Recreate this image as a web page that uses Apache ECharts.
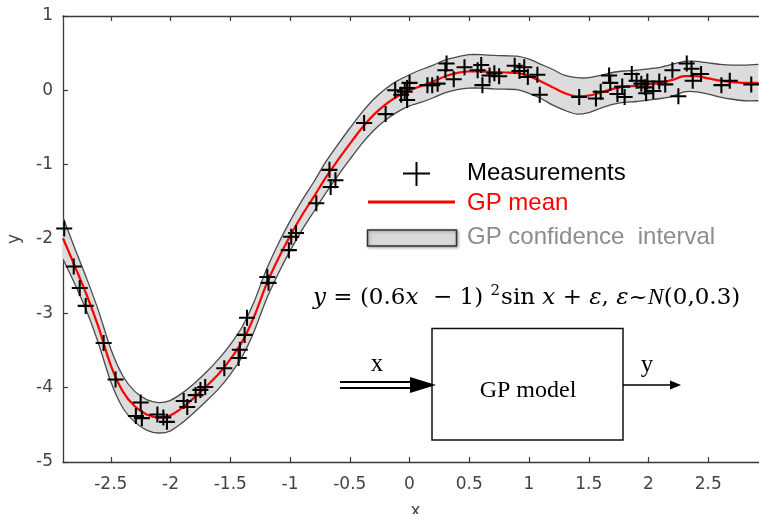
<!DOCTYPE html>
<html>
<head>
<meta charset="utf-8">
<script src="https://cdn.jsdelivr.net/npm/echarts@6/dist/echarts.min.js"></script>
<style>html,body{margin:0;padding:0;background:#fff;}#c{width:759px;height:514px;}</style>
</head>
<body>
<div id="c"></div>
<script>
// ---- data ----
const xTicks = [-2.5, -2, -1.5, -1, -0.5, 0, 0.5, 1, 1.5, 2, 2.5];
const yTicks = [-5, -4, -3, -2, -1, 0, 1];

const meanX = [-2.9,-2.8,-2.7,-2.6,-2.5,-2.4,-2.3,-2.2,-2.1,-2.0,-1.9,-1.8,-1.7,-1.6,-1.5,-1.4,-1.3,-1.2,-1.1,-1.0,
  -0.9,-0.8,-0.7,-0.6,-0.5,-0.4,-0.3,-0.2,-0.1,0.0,0.1,0.2,0.3,0.4,0.5,0.6,0.7,0.8,0.9,1.0,
  1.1,1.2,1.3,1.4,1.5,1.6,1.7,1.8,1.9,2.0,2.1,2.2,2.3,2.4,2.5,2.6,2.7,2.8,2.92];
const meanY = [-1.99,-2.37,-2.76,-3.20,-3.70,-4.05,-4.25,-4.36,-4.40,-4.37,-4.27,-4.13,-3.98,-3.82,-3.62,-3.38,-3.04,-2.62,-2.27,-1.96,
  -1.68,-1.43,-1.17,-0.94,-0.72,-0.51,-0.33,-0.19,-0.08,0.00,0.06,0.12,0.19,0.235,0.255,0.255,0.245,0.24,0.235,0.19,
  0.12,0.04,-0.04,-0.08,-0.07,-0.03,0.02,0.05,0.06,0.08,0.10,0.14,0.19,0.19,0.16,0.13,0.11,0.10,0.10];
const upperY = [-1.71,-2.13,-2.54,-2.98,-3.48,-3.84,-4.05,-4.16,-4.20,-4.17,-4.07,-3.94,-3.79,-3.62,-3.42,-3.18,-2.84,-2.42,-2.07,-1.76,
  -1.48,-1.23,-0.96,-0.73,-0.51,-0.30,-0.12,0.02,0.13,0.21,0.28,0.34,0.41,0.45,0.48,0.48,0.47,0.465,0.46,0.42,
  0.35,0.28,0.20,0.17,0.17,0.20,0.24,0.26,0.27,0.29,0.31,0.35,0.39,0.39,0.37,0.35,0.34,0.34,0.35];
const lowerY = [-2.27,-2.61,-2.98,-3.42,-3.92,-4.27,-4.46,-4.57,-4.61,-4.58,-4.47,-4.33,-4.18,-4.02,-3.82,-3.58,-3.24,-2.82,-2.47,-2.16,
  -1.88,-1.63,-1.38,-1.15,-0.93,-0.72,-0.54,-0.40,-0.29,-0.21,-0.16,-0.10,-0.03,0.01,0.03,0.03,0.02,0.015,0.01,-0.04,
  -0.11,-0.20,-0.27,-0.32,-0.30,-0.24,-0.19,-0.16,-0.15,-0.13,-0.11,-0.08,-0.02,-0.02,-0.05,-0.09,-0.12,-0.14,-0.14];

const measX = [-2.89,-2.81,-2.76,-2.71,-2.56,-2.46,-2.25,-2.29,-2.24,-2.11,-2.06,-2.03,-1.89,-1.86,-1.79,-1.75,-1.71,-1.55,-1.43,-1.42,
  -1.38,-1.36,-1.19,-1.18,-1.01,-0.99,-0.95,-0.78,-0.66,-0.67,-0.62,-0.38,-0.20,-0.12,-0.07,-0.04,0.00,-0.02,-0.02,
  0.15,0.19,0.235,0.31,0.30,0.37,0.46,0.57,0.60,0.61,0.67,0.71,0.75,0.88,0.92,0.96,0.99,1.07,1.09,
  1.42,1.56,1.60,1.67,1.68,1.74,1.78,1.80,1.86,1.90,1.94,1.97,1.98,1.99,2.04,2.09,2.14,2.20,2.25,2.32,2.36,2.37,2.44,2.61,2.68,2.86];
const measY = [-1.86,-2.37,-2.66,-2.90,-3.40,-3.89,-4.20,-4.38,-4.41,-4.36,-4.40,-4.46,-4.18,-4.26,-4.10,-4.03,-3.99,-3.74,-3.60,-3.49,
  -3.29,-3.06,-2.51,-2.59,-2.15,-1.97,-1.92,-1.52,-1.30,-1.07,-1.21,-0.44,-0.32,0.00,-0.06,-0.02,0.10,-0.13,0.03,
  0.07,0.07,0.09,0.36,0.27,0.15,0.31,0.27,0.34,0.07,0.20,0.23,0.19,0.33,0.26,0.31,0.18,0.21,-0.06,
  -0.09,-0.11,-0.02,0.20,0.10,-0.05,0.05,-0.09,0.22,0.13,0.09,0.04,-0.04,0.12,-0.01,0.12,0.08,0.27,-0.08,0.36,0.29,0.13,0.22,0.07,0.13,0.08];

// ---- chart ----
const chart = echarts.init(document.getElementById('c'), null, {renderer: 'canvas'});
const tickFont = '"DejaVu Sans", "Liberation Sans", sans-serif';
const axisColor = '#3a3a3a';

const bandData = meanX.map((x, i) => [x, upperY[i], lowerY[i]]);

function txt(text, x, y, font, fill, align, vAlign, extra) {
  return Object.assign({
    type: 'text', z: 100,
    style: {text: text, x: x, y: y, font: font, fill: fill,
      align: align || 'left', verticalAlign: vAlign || 'middle',
      textAlign: align || 'left', textVerticalAlign: vAlign || 'middle'}
  }, extra || {});
}
function ln(x1, y1, x2, y2, w, c) {
  return {type: 'line', z: 100, shape: {x1: x1, y1: y1, x2: x2, y2: y2}, style: {stroke: c || '#000', lineWidth: w}};
}

const option = {
  animation: false,
  backgroundColor: '#fff',
  grid: {left: 63, top: 16, width: 705, height: 446, containLabel: false, outerBoundsMode: 'none'},
  xAxis: [{
    type: 'value', min: -2.9, max: 3, position: 'bottom',
    axisLine: {show: true, onZero: false, lineStyle: {color: axisColor, width: 1.3}},
    axisTick: {show: true, inside: true, length: 5, customValues: xTicks, lineStyle: {color: axisColor, width: 1.2}},
    axisLabel: {show: true, customValues: xTicks, margin: 14, fontSize: 17, fontFamily: tickFont, color: '#444',
      formatter: v => String(v)},
    splitLine: {show: false},
    name: 'x', nameLocation: 'middle', nameGap: 41,
    nameTextStyle: {fontSize: 17, fontFamily: tickFont, color: '#444'}
  }, {
    type: 'value', min: -2.9, max: 3, position: 'top',
    axisLine: {show: true, onZero: false, lineStyle: {color: axisColor, width: 1.3}},
    axisTick: {show: true, inside: true, length: 5, customValues: xTicks, lineStyle: {color: axisColor, width: 1.2}},
    axisLabel: {show: false}, splitLine: {show: false}
  }],
  yAxis: [{
    type: 'value', min: -5, max: 1, interval: 1, position: 'left',
    axisLine: {show: true, onZero: false, lineStyle: {color: axisColor, width: 1.3}},
    axisTick: {show: true, inside: true, length: 5, lineStyle: {color: axisColor, width: 1.2}},
    axisLabel: {show: true, margin: 10, fontSize: 17, fontFamily: tickFont, color: '#444',
      customValues: yTicks, formatter: v => String(v)},
    splitLine: {show: false},
    name: 'y', nameLocation: 'middle', nameGap: 40,
    nameTextStyle: {fontSize: 17, fontFamily: tickFont, color: '#444'}
  }],
  series: [{
    type: 'custom', name: 'GP confidence interval', clip: true, z: 1,
    data: bandData,
    encode: {x: 0, y: [1, 2]},
    renderItem: function (params, api) {
      if (params.dataIndex !== 0) return null;
      const up = bandData.map(d => api.coord([d[0], d[1]]));
      const lo = bandData.map(d => api.coord([d[0], d[2]]));
      return {
        type: 'group',
        children: [
          {type: 'polygon', shape: {points: up.concat(lo.slice().reverse())}, style: {fill: '#dcdcdc', stroke: null}},
          {type: 'polyline', shape: {points: up, smooth: 0.25}, style: {stroke: '#4a4a4a', lineWidth: 1.3, fill: null}},
          {type: 'polyline', shape: {points: lo, smooth: 0.25}, style: {stroke: '#4a4a4a', lineWidth: 1.3, fill: null}}
        ]
      };
    }
  }, {
    type: 'line', name: 'GP mean', z: 3,
    data: meanX.map((x, i) => [x, meanY[i]]),
    showSymbol: false, smooth: 0.3,
    lineStyle: {color: '#ff0000', width: 2.2}
  }, {
    type: 'scatter', name: 'Measurements', z: 5,
    data: measX.map((x, i) => [x, measY[i]]),
    symbol: 'path://M6.1,0h1.8v14h-1.8zM0,6.1h14v1.8h-14z',
    symbolSize: 16,
    itemStyle: {color: '#000', opacity: 1}
  }],
  graphic: [
    // legend
    ln(403, 173.5, 430, 173.5, 2, '#000'),
    ln(416.5, 162, 416.5, 186, 2, '#000'),
    txt('Measurements', 467, 173.5, '24px "Liberation Sans", Arial, sans-serif', '#000'),
    ln(368, 202, 455, 202, 3, '#ff0000'),
    txt('GP mean', 467, 203, '24px "Liberation Sans", Arial, sans-serif', '#ff0000'),
    {type: 'rect', z: 100, shape: {x: 367.5, y: 230, width: 89, height: 16},
      style: {fill: '#d9d9d9', stroke: '#333', lineWidth: 1.5, shadowBlur: 3, shadowColor: 'rgba(0,0,0,0.35)', shadowOffsetX: 1, shadowOffsetY: 1}},
    txt('GP confidence  interval', 467, 237.5, '24px "Liberation Sans", Arial, sans-serif', '#8c8c8c'),
    // equation
    {type: 'text', z: 100, style: {
      text: '{i|y} = (0.6{i|x}  − 1) {s|2}sin {i|x} + {i|ε}, {i|ε}~{c|N}(0,0.3)',
      x: 313, y: 298, font: '23px "DejaVu Serif", "Liberation Serif", serif', fill: '#000',
      align: 'left', verticalAlign: 'middle', textAlign: 'left', textVerticalAlign: 'middle',
      rich: {
        i: {fontStyle: 'italic', fontFamily: '"DejaVu Serif", "Liberation Serif", serif', fontSize: 23},
        c: {fontStyle: 'italic', fontFamily: '"Liberation Serif", serif', fontSize: 24},
        s: {fontSize: 15, fontFamily: '"DejaVu Serif", serif', verticalAlign: 'top', lineHeight: 28, padding: [0, 1, 0, 0]}
      }
    }},
    // block diagram
    {type: 'rect', z: 100, shape: {x: 432, y: 328.5, width: 191, height: 111.5},
      style: {fill: 'none', stroke: '#111', lineWidth: 1.5}},
    txt('GP model', 528, 391, '24px "Liberation Serif", "Times New Roman", serif', '#000', 'center'),
    txt('x', 377, 364, '25px "Liberation Serif", "Times New Roman", serif', '#000', 'center'),
    txt('y', 647, 365, '25px "Liberation Serif", "Times New Roman", serif', '#000', 'center'),
    ln(340, 382, 414, 382, 2, '#000'),
    ln(340, 388, 414, 388, 2, '#000'),
    {type: 'polygon', z: 100, shape: {points: [[410, 377], [436, 385], [410, 393]]}, style: {fill: '#000'}},
    ln(623, 385, 673, 385, 1.5, '#000'),
    {type: 'polygon', z: 100, shape: {points: [[670, 380.5], [681, 385], [670, 389.5]]}, style: {fill: '#000'}}
  ]
};
chart.setOption(option);
</script>
</body>
</html>
